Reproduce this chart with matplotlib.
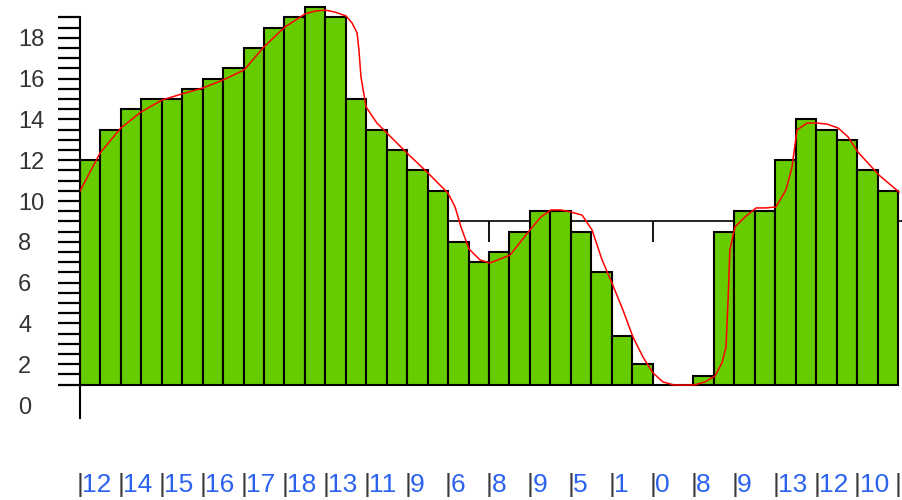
import numpy as np
import matplotlib
matplotlib.use("Agg")
import matplotlib.pyplot as plt

# bar tops (values on the y scale), 40 bars, drawn from base 1
bar_values = [12, 13.5, 14.5, 15, 15, 15.5, 16, 16.5, 17.5, 18.5,
              19, 19.5, 19, 15, 13.5, 12.5, 11.5, 10.5, 8, 7,
              7.5, 8.5, 9.5, 9.5, 8.5, 6.5, 3.4, 2, 1, 1,
              1.4, 8.5, 9.5, 9.5, 12, 14, 13.5, 13, 11.5, 10.5]
bar_base = 1

# red smoothed curve (x in bar units)
curve_x = [0.00, 0.98, 2.00, 2.98, 4.01, 4.99, 6.01, 6.99, 8.02, 8.99,
           10.02, 11.00, 11.49, 11.98, 12.47, 13.01, 13.30, 13.55, 13.64, 13.74,
           13.99, 14.52, 15.01, 15.99, 17.02, 17.99, 18.34, 18.63, 19.02, 19.56,
           20.05, 21.03, 22.00, 22.54, 23.03, 23.52, 24.01, 24.55, 25.04, 25.53,
           26.01, 26.55, 27.04, 27.53, 28.02, 28.51, 29.05, 30.02, 30.56, 31.05,
           31.39, 31.59, 31.69, 31.78, 32.03, 32.52, 33.06, 33.55, 34.03, 34.52,
           34.82, 35.06, 35.55, 36.04, 36.53, 37.07, 37.56, 38.04, 39.07, 40.05]
curve_y = [10.49, 12.35, 13.58, 14.36, 14.95, 15.25, 15.54, 15.93, 16.42, 17.55,
           18.53, 19.17, 19.31, 19.36, 19.26, 19.07, 18.73, 18.24, 17.40, 16.08,
           14.61, 13.82, 13.33, 12.35, 11.37, 10.39, 9.71, 8.73, 7.65, 7.11,
           6.96, 7.35, 8.58, 9.22, 9.56, 9.56, 9.46, 9.31, 8.58, 7.11,
           5.98, 4.66, 3.33, 2.35, 1.57, 1.13, 0.98, 0.98, 1.13, 1.42,
           2.06, 2.84, 5.15, 7.60, 8.73, 9.22, 9.66, 9.66, 9.71, 10.54,
           11.67, 13.48, 13.82, 13.82, 13.77, 13.58, 13.14, 12.40, 11.27, 10.44]

# bottom labels, one every two bars
bottom_labels = ['12', '14', '15', '16', '17', '18', '13', '11', '9', '6',
                 '8', '9', '5', '1', '0', '8', '9', '13', '12', '10']
y_labels = [0, 2, 4, 6, 8, 10, 12, 14, 16, 18]
cross_line = 9
cross_ticks = [4, 12, 20, 28, 36]

plt.rcParams['font.family'] = ['Liberation Sans', 'DejaVu Sans']

fig = plt.figure(figsize=(9.03, 5.0), dpi=100)
ax = fig.add_axes([80 / 903, 0, 823 / 903, 1])

n = len(bar_values)
ax.bar(np.arange(n), np.array(bar_values) - bar_base, bottom=bar_base, width=1,
       align='edge', color='#66cc00', edgecolor='black', linewidth=1.5, zorder=2)
ax.plot(curve_x, curve_y, color='red', lw=1.1, zorder=3)

ax.set_xlim(0, 823 / 20.45)
ax.set_ylim(-95 / 20.4, 405 / 20.4)

# spines
ax.spines['top'].set_visible(False)
ax.spines['right'].set_visible(False)
ax.spines['left'].set_linewidth(1.5)
ax.spines['left'].set_bounds(-0.64, 19.02)
ax.spines['bottom'].set_position(('data', cross_line))
ax.spines['bottom'].set_linewidth(1.2)
ax.spines['bottom'].set_zorder(0.4)
ax.set_axisbelow(True)

# x ticks on the crossing line
ax.set_xticks(cross_ticks)
ax.set_xticklabels([])
ax.tick_params(axis='x', direction='out', length=15, width=1.3, color='black')

# y ticks: labels only for majors, marks every 0.5
ax.set_yticks(y_labels)
ax.set_yticklabels([str(v) for v in y_labels])
ax.set_yticks(np.arange(1, 19.01, 0.5), minor=True)
ax.yaxis.remove_overlapping_locs = False
ax.tick_params(axis='y', which='major', length=0, pad=44.6, labelsize=17,
               labelcolor='#333333')
ax.tick_params(axis='y', which='minor', length=15.8, width=1.6, color='black')
for lab in ax.get_yticklabels():
    lab.set_horizontalalignment('left')

# bottom labels
label_y = -80 / 20.4
for i, txt in enumerate(bottom_labels):
    x0 = 2 * i
    ax.text(x0 - 0.15, label_y, '|', color='#3a3a3a', fontsize=19,
            ha='left', va='center', clip_on=False)
    ax.text(x0 + 0.12, label_y, txt, color='#2b63f0', fontsize=19,
            ha='left', va='center', clip_on=False)
ax.text(2 * len(bottom_labels) - 0.15, label_y, '|', color='#3a3a3a',
        fontsize=19, ha='left', va='center', clip_on=False)

fig.savefig('out.png', dpi=100)
